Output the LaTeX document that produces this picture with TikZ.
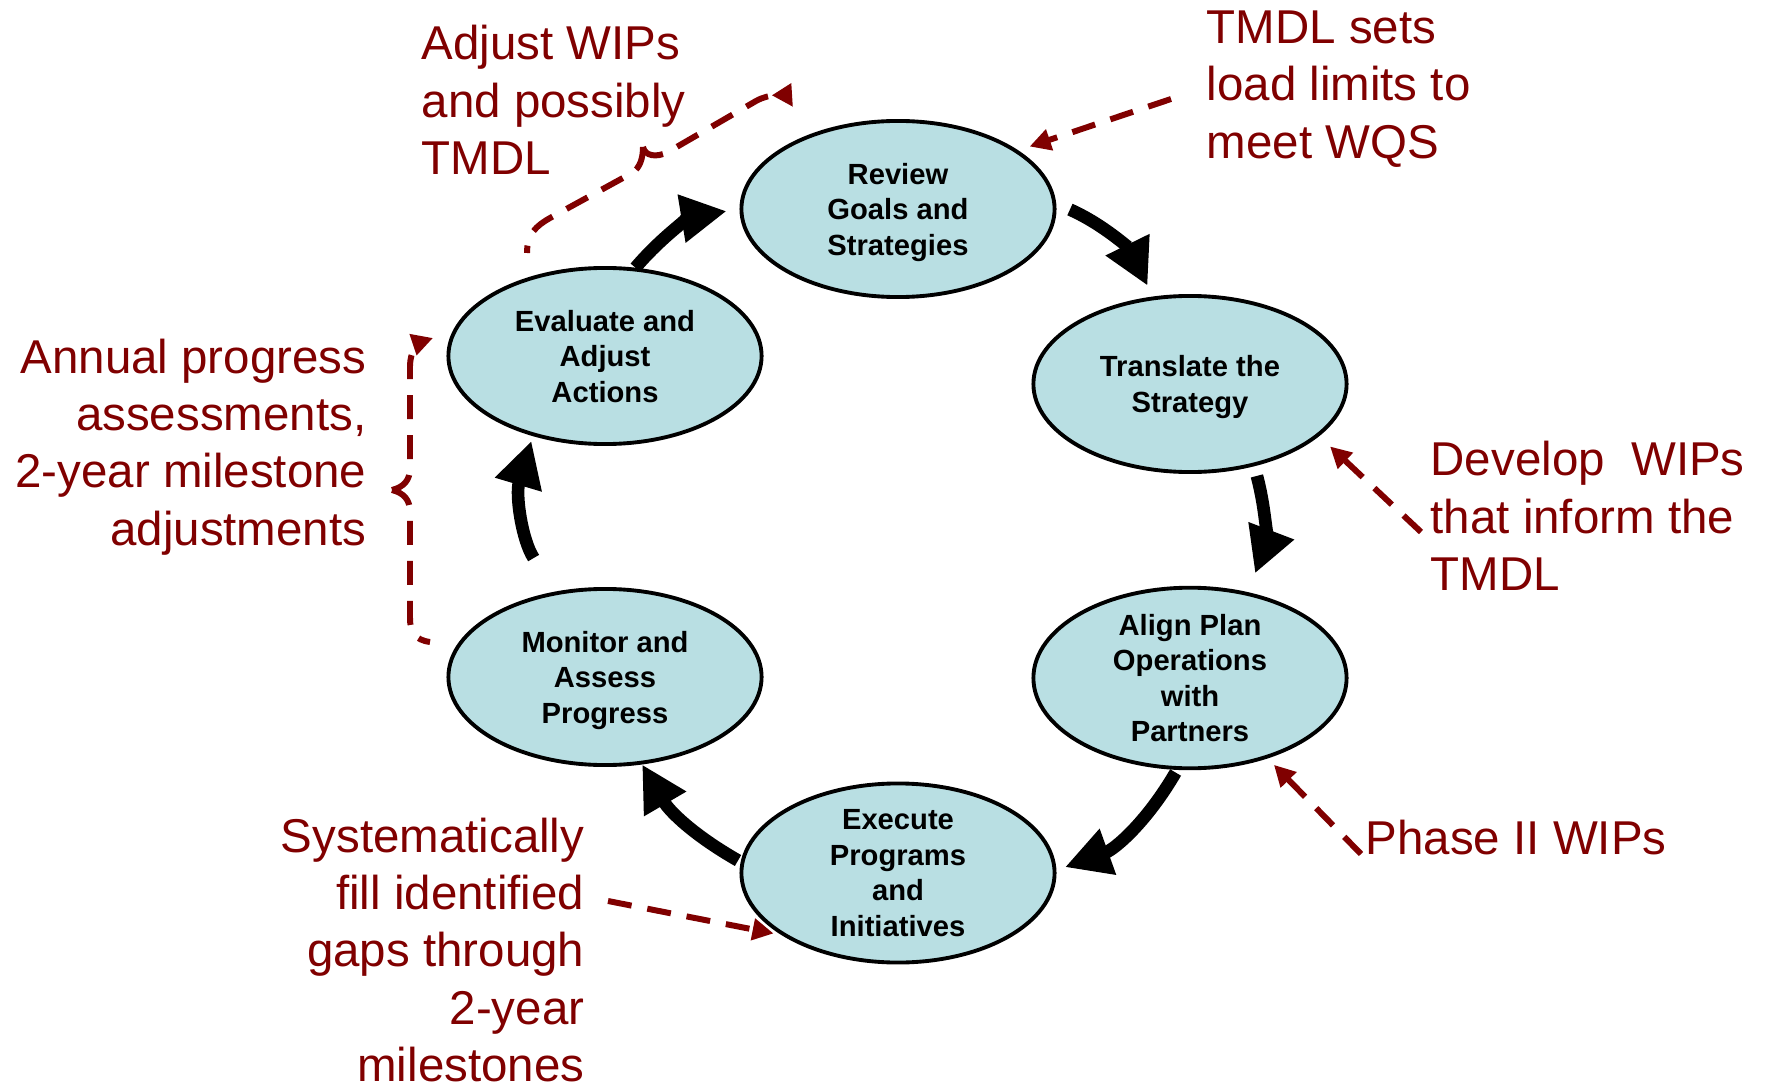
\documentclass[tikz,border=0pt]{standalone}
\usepackage{fontspec}
\setmainfont{Liberation Sans}
\usetikzlibrary{shapes.geometric, arrows.meta}

\begin{document}
\begin{tikzpicture}[x=0.01cm, y=-0.01cm,
    stage/.style={ellipse, draw=black, line width=1.1pt, fill=stagecolor,
        minimum width=3.13cm, minimum height=1.76cm, inner sep=0pt, text depth=-1.2pt,
        align=center, font=\bfseries\fontsize{8.3}{10.1}\selectfont},
    note/.style={text=notecolor, inner sep=0pt, font=\fontsize{13.5}{16.3}\selectfont},
    cyclearrow/.style={line width=3.6pt, -{Triangle[length=13pt, width=13pt]}},
    notearrow/.style={notecolor, line width=1.7pt, dash pattern=on 0.24cm off 0.16cm},
    notetip/.style={-{Triangle[length=6pt, width=6pt]}}
]

    % Define colors
    \definecolor{stagecolor}{RGB}{185,223,227}
    \definecolor{notecolor}{RGB}{128,0,0}

    \useasboundingbox (0,0) rectangle (1766,1088);

    % ===== 1. The six stages of the cycle =====
    \node[stage] (review)    at (898,209)  {Review\\Goals and\\Strategies};
    \node[stage] (translate) at (1190,384) {Translate the\\Strategy};
    \node[stage] (align)     at (1190,678) {Align Plan\\Operations\\with\\Partners};
    \node[stage] (execute)   at (898,873)  {Execute\\Programs\\and\\Initiatives};
    \node[stage] (monitor)   at (605,677)  {Monitor and\\Assess\\Progress};
    \node[stage] (evaluate)  at (605,356)  {Evaluate and\\Adjust\\Actions};

    % ===== 2. Cycle arrows (clockwise) =====
    \draw[cyclearrow, shorten <=0.15cm, shorten >=0.12cm] (review.2) to[bend left=20] (translate.113);
    \draw[cyclearrow, shorten <=0.1cm, shorten >=0.2cm] (translate.-52) to[bend left=18] (align.56);
    \draw[cyclearrow, shorten <=0.03cm, shorten >=0.09cm] (align.-98) to[bend left=20] (execute.1);
    \draw[cyclearrow, shorten <=0.03cm] (execute.176) to[bend left=15] (monitor.-67);
    \draw[cyclearrow, shorten <=0.4cm, shorten >=0.05cm] (monitor.120) to[bend left=25] (evaluate.-132);
    \draw[cyclearrow, shorten >=0.13cm] (evaluate.71) to[bend left=20] (review.180);

    % ===== 3. Notes =====
    \node[note, anchor=west, align=left] (adjust) at (421,100) {Adjust WIPs\\and possibly\\TMDL};
    \node[note, anchor=west, align=left] (tmdl) at (1206,89) {TMDL sets\\load limits to\\meet WQS};
    \node[note, anchor=east, align=right] (annual) at (367,447) {Annual progress\\assessments,\\2-year milestone\\adjustments};
    \node[note, anchor=west, align=left] (develop) at (1430,516) {Develop~ WIPs\\that inform the\\TMDL};
    \node[note, anchor=west] (phase) at (1365,838) {Phase II WIPs};
    \node[note, anchor=east, align=right] (gaps) at (585,950) {Systematically\\fill identified\\gaps through\\2-year\\milestones};

    % ===== 4. Note arrows =====
    \coordinate (tmdltail) at (1171,99);
    \coordinate (developtail) at (1421,532);
    \coordinate (phasetail) at (1361,854);
    \coordinate (gapstail) at (608,901);
    \draw[notearrow, notetip, shorten >=0.12cm] (tmdltail) -- (review.26);
    \draw[notearrow, notetip, shorten >=0.15cm] (developtail) -- (translate.-22);
    \draw[notearrow, notetip, shorten >=0.09cm] (phasetail) -- (align.-46);
    \draw[notearrow, notetip, shorten >=0.08cm] (gapstail) -- (execute.208);

    % braces (each half drawn out from the cusp)
    \coordinate (adjustcusp) at (643,147);
    \coordinate (adjusttail) at (527,253);
    \coordinate (adjusthead) at (793,107);
    \draw[notearrow] (adjustcusp) .. controls (643,158) and (640,168) .. (632,173) -- (550,218)
        .. controls (536,226) and (527,234) .. (adjusttail);
    \draw[notearrow, notetip] (adjustcusp) .. controls (645,156) and (656,158) .. (668,152) -- (756,101)
        .. controls (770,93) and (786,96) .. (adjusthead);

    \coordinate (annualcusp) at (392,490);
    \coordinate (annualtail) at (430,642);
    \coordinate (annualhead) at (433,338);
    \draw[notearrow] (annualcusp) .. controls (404,493) and (410,500) .. (410,512) -- (410,618)
        .. controls (410,632) and (415,640) .. (annualtail);
    \draw[notearrow, notetip] (annualcusp) .. controls (404,487) and (410,480) .. (410,468) -- (410,366)
        .. controls (410,352) and (418,343) .. (annualhead);

\end{tikzpicture}
\end{document}
